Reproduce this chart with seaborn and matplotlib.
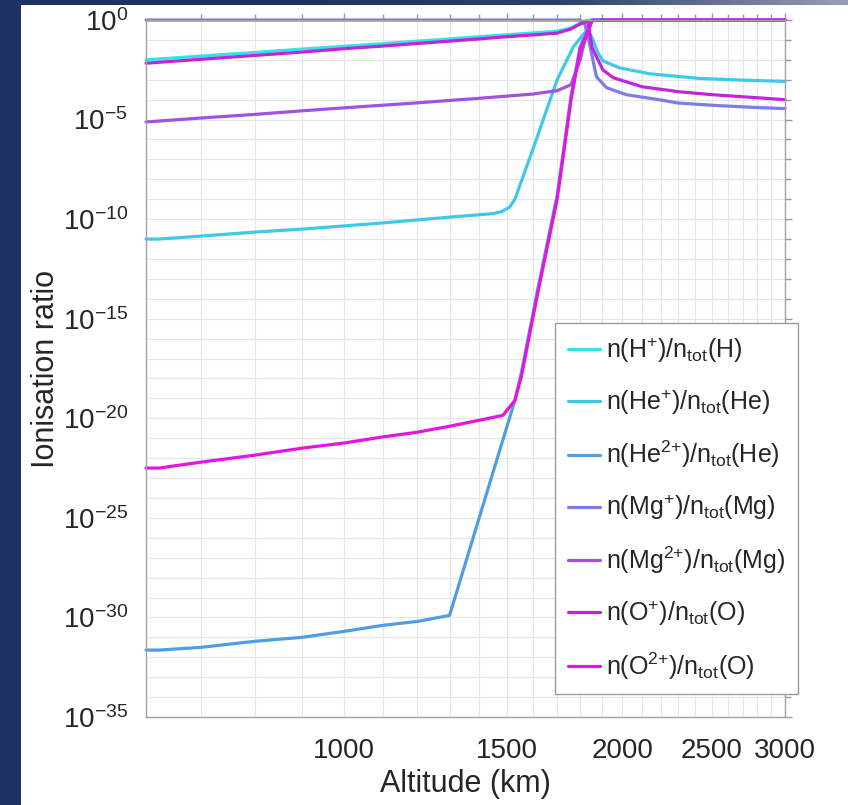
import numpy as np
import pandas as pd
import matplotlib
matplotlib.use("Agg")
import matplotlib.pyplot as plt
import seaborn as sns
from matplotlib.ticker import FixedLocator, NullFormatter
from matplotlib.patches import Rectangle
from matplotlib.colors import LinearSegmentedColormap

# altitude (km) and ionisation ratio
alt_h1 = [610, 700, 800, 900, 1000, 1100, 1200, 1300, 1400, 1500, 1600, 1700,
          1760, 1800, 1830, 1860, 1900, 2000, 2200, 2500, 3000]
ion_h1 = [1.0e-2, 1.55e-2, 2.34e-2, 3.47e-2, 4.79e-2, 6.46e-2, 8.71e-2, 0.112,
          0.145, 0.182, 0.224, 0.275, 0.398, 0.708, 0.955, 1.0, 1.0, 1.0, 1.0, 1.0, 1.0]

alt_he1 = [610, 630, 700, 800, 900, 1000, 1100, 1200, 1300, 1400, 1450, 1480,
           1510, 1530, 1600, 1700, 1770, 1820, 1835, 1855, 1880, 1905, 1985,
           2140, 2420, 2700, 3000]
ion_he1 = [1.0e-11, 1.0e-11, 1.41e-11, 2.24e-11, 3.16e-11, 4.57e-11, 6.46e-11,
           9.12e-11, 1.26e-10, 1.66e-10, 1.91e-10, 2.40e-10, 3.98e-10, 1.0e-9,
           3.16e-7, 1.0e-3, 4.47e-2, 0.224, 0.316, 0.126, 2.51e-2, 8.91e-3,
           3.98e-3, 2.0e-3, 1.17e-3, 9.55e-4, 8.32e-4]

alt_he2 = [610, 630, 700, 800, 900, 1000, 1100, 1200, 1300, 1530, 1555, 1620,
           1700, 1730, 1760, 1800, 1855, 1900, 2000, 2500, 3000]
ion_he2 = [2.29e-32, 2.29e-32, 3.16e-32, 6.31e-32, 1.0e-31, 2.0e-31, 3.98e-31,
           6.31e-31, 1.26e-30, 7.94e-20, 2.0e-18, 3.16e-14, 1.58e-9, 5.01e-7,
           1.58e-4, 4.47e-2, 1.0, 1.0, 1.0, 1.0, 1.0]

alt_mg1 = [610, 700, 1000, 1500, 1800, 1820, 1842, 1875, 1923, 2020, 2190,
           2300, 2500, 2750, 3000]
ion_mg1 = [1.0, 1.0, 1.0, 1.0, 1.0, 0.708, 7.08e-2, 1.41e-3, 3.98e-4, 1.78e-4,
           1.0e-4, 6.76e-5, 5.25e-5, 4.17e-5, 3.55e-5]

alt_mg2 = [610, 700, 800, 900, 1000, 1100, 1200, 1300, 1400, 1500, 1600, 1655,
           1700, 1760, 1800, 1820, 1855, 1900, 2000, 2500, 3000]
ion_mg2 = [7.59e-6, 1.2e-5, 1.82e-5, 2.75e-5, 3.89e-5, 5.25e-5, 6.92e-5,
           9.12e-5, 1.17e-4, 1.51e-4, 1.91e-4, 2.40e-4, 2.82e-4, 5.62e-4,
           1.0e-2, 7.94e-2, 1.0, 1.0, 1.0, 1.0, 1.0]

alt_o1 = [610, 700, 800, 900, 1000, 1100, 1200, 1300, 1400, 1500, 1600, 1700,
          1760, 1800, 1835, 1855, 1905, 1955, 2100, 2300, 2500, 2750, 3000]
ion_o1 = [6.76e-3, 1.07e-2, 1.66e-2, 2.45e-2, 3.63e-2, 4.90e-2, 6.61e-2,
          8.71e-2, 0.112, 0.145, 0.178, 0.219, 0.355, 0.631, 0.871, 3.98e-2,
          3.16e-3, 1.26e-3, 4.47e-4, 2.51e-4, 1.78e-4, 1.32e-4, 1.0e-4]

alt_o2 = [610, 630, 700, 800, 900, 1000, 1100, 1200, 1300, 1400, 1485, 1530,
          1555, 1620, 1700, 1730, 1760, 1800, 1855, 1900, 2000, 2500, 3000]
ion_o2 = [3.16e-23, 3.16e-23, 6.31e-23, 1.41e-22, 3.16e-22, 5.75e-22, 1.15e-21,
          2.0e-21, 3.98e-21, 7.94e-21, 1.41e-20, 7.94e-20, 1.26e-18, 2.0e-14,
          1.0e-9, 3.16e-7, 1.0e-4, 3.16e-2, 0.933, 1.0, 1.0, 1.0, 1.0]

labels = [r'n(H$^{+}$)/n$_{\rm tot}$(H)',
          r'n(He$^{+}$)/n$_{\rm tot}$(He)',
          r'n(He$^{2{+}}$)/n$_{\rm tot}$(He)',
          r'n(Mg$^{+}$)/n$_{\rm tot}$(Mg)',
          r'n(Mg$^{2{+}}$)/n$_{\rm tot}$(Mg)',
          r'n(O$^{+}$)/n$_{\rm tot}$(O)',
          r'n(O$^{2{+}}$)/n$_{\rm tot}$(O)']
colors = ['#33e3e6', '#3ec9ea', '#4e9ee6', '#7c7ee6', '#a052e0', '#c224dc', '#e614e0']

x_major = [1000, 1500, 2000, 2500, 3000]
x_minor = [700, 800, 900, 1100, 1200, 1300, 1400, 1600, 1700, 1800, 1900,
           2100, 2200, 2300, 2400, 2600, 2700, 2800, 2900]
y_exp_major = [0, -5, -10, -15, -20, -25, -30, -35]

series = [(alt_h1, ion_h1), (alt_he1, ion_he1), (alt_he2, ion_he2),
          (alt_mg1, ion_mg1), (alt_mg2, ion_mg2), (alt_o1, ion_o1), (alt_o2, ion_o2)]
frames = []
for lab, (a, r) in zip(labels, series):
    frames.append(pd.DataFrame({'alt': a, 'ratio': r, 'species': lab}))
df = pd.concat(frames, ignore_index=True)

sns.set_style('white')
plt.rcParams['font.family'] = ['Liberation Sans', 'DejaVu Sans']
plt.rcParams['mathtext.fontset'] = 'custom'
plt.rcParams['mathtext.rm'] = 'Liberation Sans'
plt.rcParams['mathtext.it'] = 'Liberation Sans:italic'
plt.rcParams['mathtext.bf'] = 'Liberation Sans:bold'

W, H = 848, 805
fig = plt.figure(figsize=(W / 100, H / 100), dpi=100, facecolor='white')

# dark slide frame
navy = '#1c3262'
fig.add_artist(Rectangle((0, 0), 21 / W, 1, transform=fig.transFigure,
                         facecolor=navy, edgecolor='none', zorder=-5))
gax = fig.add_axes([0, 1 - 5 / H, 1, 5 / H])
grad = np.linspace(0, 1, 256).reshape(1, -1)
gax.imshow(grad, aspect='auto',
           cmap=LinearSegmentedColormap.from_list('strip', [navy, navy, '#2c406c', '#969fb2']))
gax.axis('off')

ax = fig.add_axes([146 / W, 1 - 717 / H, (785 - 146) / W, (717 - 20) / H])
sns.lineplot(data=df, x='alt', y='ratio', hue='species', hue_order=labels,
             palette=dict(zip(labels, colors)), estimator=None, sort=False,
             linewidth=2.3, ax=ax)
for ln in ax.get_lines():
    ln.set_clip_on(False)

ax.set_xscale('log')
ax.set_yscale('log')
ax.set_xlim(610, 3000)
ax.set_ylim(1e-35, 1)

ax.xaxis.set_major_locator(FixedLocator(x_major))
ax.xaxis.set_minor_locator(FixedLocator(x_minor))
ax.set_xticklabels([str(v) for v in x_major])
ax.xaxis.set_minor_formatter(NullFormatter())

ax.yaxis.set_major_locator(FixedLocator([10.0 ** e for e in y_exp_major]))
ax.yaxis.set_minor_locator(FixedLocator([10.0 ** -k for k in range(36) if k % 5]))
ax.set_yticklabels([r'$10^{%d}$' % e for e in y_exp_major])
ax.yaxis.set_minor_formatter(NullFormatter())

ax.tick_params(which='both', direction='out', top=True, right=True,
               color='#9a9a9a', width=1.0)
ax.tick_params(which='major', length=5, labelsize=20)
ax.tick_params(which='minor', length=4)
ax.tick_params(axis='x', which='major', pad=10)
ax.tick_params(axis='y', which='major', pad=8)

ax.grid(True, which='both', color='#e6e6e6', linewidth=0.8)
ax.set_axisbelow(True)
for s in ax.spines.values():
    s.set_color('#a0a0a0')
    s.set_linewidth(1.0)

ax.set_xlabel('Altitude (km)', fontsize=22)
ax.set_ylabel('Ionisation ratio', fontsize=22)
ax.xaxis.set_label_coords(0.5, -0.075)
ax.yaxis.set_label_coords(-0.133, 0.5)

sns.move_legend(ax, 'upper left', bbox_to_anchor=(555 / W, 1 - 323 / H),
                bbox_transform=fig.transFigure, title=None, frameon=True,
                fontsize=18, handlelength=1.3, handletextpad=0.25,
                labelspacing=0.9, borderpad=0.5, borderaxespad=0,
                fancybox=False, edgecolor='#9a9a9a', framealpha=1)
ax.get_legend().get_frame().set_linewidth(1.0)

fig.savefig('out.png', dpi=100, facecolor='white')
